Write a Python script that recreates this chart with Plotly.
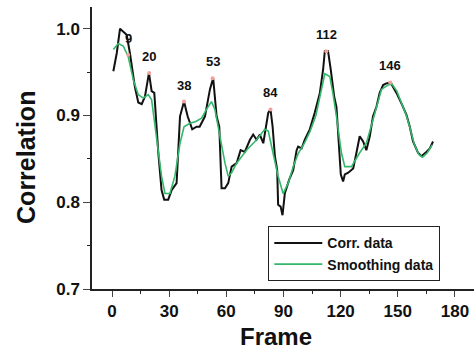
import plotly.graph_objects as go

corr_frames = [0.7, 2.5, 4.2, 5.9, 7.7, 9.4, 12, 13.8, 15.6, 17.3, 19.4, 20.8, 22.2, 24.3, 26, 27.4, 29.5, 31.3, 33.9, 35.7,
               37.8, 39.7, 42.1, 44.4, 46, 48.8, 51.4, 53.1, 54.9, 56.3, 57.5, 59.3, 61, 62.8, 65.4, 67.5, 69.7, 72.4, 74.1, 75.9,
               77.6, 79.4, 80.8, 82, 83.2, 84.3, 85.5, 86.7, 87.2, 88.5, 89.5, 90.7, 93, 95.1, 96.9, 97.7, 99.5, 101.2, 103.8, 106.4,
               109.1, 110.8, 111.7, 113.4, 114.8, 116.6, 117.8, 119, 120.1, 121.3, 122.2, 124, 126.6, 128.3, 130, 131.8, 133.5, 135.3, 137, 138.8,
               140.5, 142.3, 144, 146.2, 147.5, 149.3, 151.9, 154.5, 156.3, 158, 160.6, 162.4, 165, 166.8, 168.5]
corr_values = [0.951, 0.972, 1.0, 0.997, 0.993, 0.972, 0.933, 0.915, 0.913, 0.922, 0.949, 0.928, 0.926, 0.857, 0.814, 0.803, 0.803, 0.814, 0.822, 0.899,
               0.916, 0.899, 0.884, 0.887, 0.887, 0.899, 0.930, 0.943, 0.899, 0.887, 0.816, 0.816, 0.822, 0.841, 0.845, 0.860, 0.858, 0.872, 0.878, 0.872,
               0.878, 0.868, 0.887, 0.903, 0.907, 0.887, 0.853, 0.837, 0.797, 0.795, 0.785, 0.810, 0.826, 0.837, 0.860, 0.864, 0.862, 0.872, 0.884, 0.903,
               0.926, 0.953, 0.974, 0.974, 0.953, 0.922, 0.910, 0.872, 0.832, 0.824, 0.832, 0.834, 0.839, 0.857, 0.876, 0.870, 0.860, 0.876, 0.899, 0.910,
               0.926, 0.935, 0.937, 0.938, 0.933, 0.926, 0.914, 0.901, 0.887, 0.870, 0.857, 0.853, 0.858, 0.862, 0.870]

smooth_frames = [0.7, 3.3, 5.9, 8.5, 11.2, 13.8, 16.4, 19, 20.8, 23.4, 26, 27.8, 30.4, 33, 35.7, 37.8, 40.9, 44, 47, 49.6,
                 52.2, 54, 56.6, 59.3, 61, 62.8, 65.4, 70.6, 75.9, 80.2, 82, 84.6, 87.2, 89.8, 92.5, 95.1, 97.7, 101, 104, 107,
                 109.5, 111.7, 114.3, 116, 117.8, 120.4, 122.2, 125.7, 130, 133.5, 137, 141.4, 144.9, 147, 149.5, 152, 154.5, 156.5, 158.5, 161,
                 163, 165.5, 168]
smooth_values = [0.976, 0.983, 0.98, 0.968, 0.941, 0.924, 0.92, 0.924, 0.918, 0.876, 0.83, 0.81, 0.81, 0.83, 0.868, 0.887, 0.891, 0.893, 0.897, 0.907,
                 0.916, 0.907, 0.876, 0.845, 0.830, 0.834, 0.845, 0.860, 0.872, 0.884, 0.882, 0.857, 0.830, 0.810, 0.822, 0.841, 0.856, 0.868, 0.882, 0.900,
                 0.925, 0.948, 0.945, 0.925, 0.899, 0.857, 0.841, 0.841, 0.857, 0.868, 0.895, 0.930, 0.935, 0.936, 0.928, 0.915, 0.900, 0.885, 0.868, 0.855,
                 0.852, 0.857, 0.866]

peak_labels = ["9", "20", "38", "53", "84", "112", "146"]
peak_frames = [8.5, 19.5, 37.8, 52.8, 83.2, 112.5, 146]
peak_values = [0.970, 0.949, 0.916, 0.943, 0.907, 0.974, 0.938]

x_ticks = [0, 30, 60, 90, 120, 150, 180]
y_ticks = [0.7, 0.8, 0.9, 1.0]

FONT = "Liberation Sans, Arial, sans-serif"

fig = go.Figure()
fig.add_trace(go.Scatter(x=corr_frames, y=corr_values, mode="lines", name="Corr. data",
                         line=dict(color="#111111", width=2)))
fig.add_trace(go.Scatter(x=smooth_frames, y=smooth_values, mode="lines", name="Smoothing data",
                         line=dict(color="#33b86b", width=1.6)))
fig.add_trace(go.Scatter(x=peak_frames, y=peak_values, mode="markers", showlegend=False,
                         marker=dict(color="#f4a09a", size=4)))

for lab, fx, fy in zip(peak_labels, peak_frames, peak_values):
    fig.add_annotation(x=fx, y=fy, text=lab, showarrow=False, yanchor="bottom", yshift=7,
                       font=dict(family=FONT, size=13, color="#111", weight="bold"))

# axis titles placed as paper annotations
fig.add_annotation(xref="paper", yref="paper", x=-0.173, y=0.468, text="Correlation", textangle=-90,
                   showarrow=False, xanchor="center", yanchor="middle",
                   font=dict(family=FONT, size=25, weight="bold", color="#111"))
fig.add_annotation(xref="paper", yref="paper", x=0.482, y=-0.168, text="Frame",
                   showarrow=False, xanchor="center", yanchor="middle",
                   font=dict(family=FONT, size=24, weight="bold", color="#111"))

fig.update_layout(
    width=476, height=351,
    margin=dict(l=92, r=2, t=7, b=62),
    paper_bgcolor="white", plot_bgcolor="white",
    font=dict(family=FONT, color="#111"),
    legend=dict(x=0.461, y=0.223, xanchor="left", yanchor="top",
                bordercolor="#222", borderwidth=1.2, bgcolor="white",
                font=dict(family=FONT, size=14, weight="bold", color="#111"),
                itemwidth=48, tracegroupgap=0),
)
fig.update_xaxes(range=[-10.5, 190], tickvals=x_ticks, ticks="outside", ticklen=6, tickwidth=1.2,
                 showline=True, linecolor="#222", linewidth=1.5, showgrid=False, zeroline=False,
                 automargin=False,
                 tickfont=dict(family=FONT, size=17, weight="bold", color="#111"),
                 minor=dict(dtick=15, tick0=0, ticks="outside", ticklen=3, tickcolor="#222"))
fig.update_yaxes(range=[0.7, 1.025], tickvals=y_ticks, ticktext=["0.7", "0.8", "0.9", "1.0"],
                 ticks="outside", ticklen=7, tickwidth=1.2,
                 showline=True, linecolor="#222", linewidth=1.5, showgrid=False, zeroline=False,
                 automargin=False,
                 tickfont=dict(family=FONT, size=17, weight="bold", color="#111"),
                 minor=dict(dtick=0.05, tick0=0.7, ticks="outside", ticklen=3, tickcolor="#222"))

fig.write_html("out.html", config={"displayModeBar": False},
               post_script="document.body.style.margin='0';document.body.style.padding='0';")
